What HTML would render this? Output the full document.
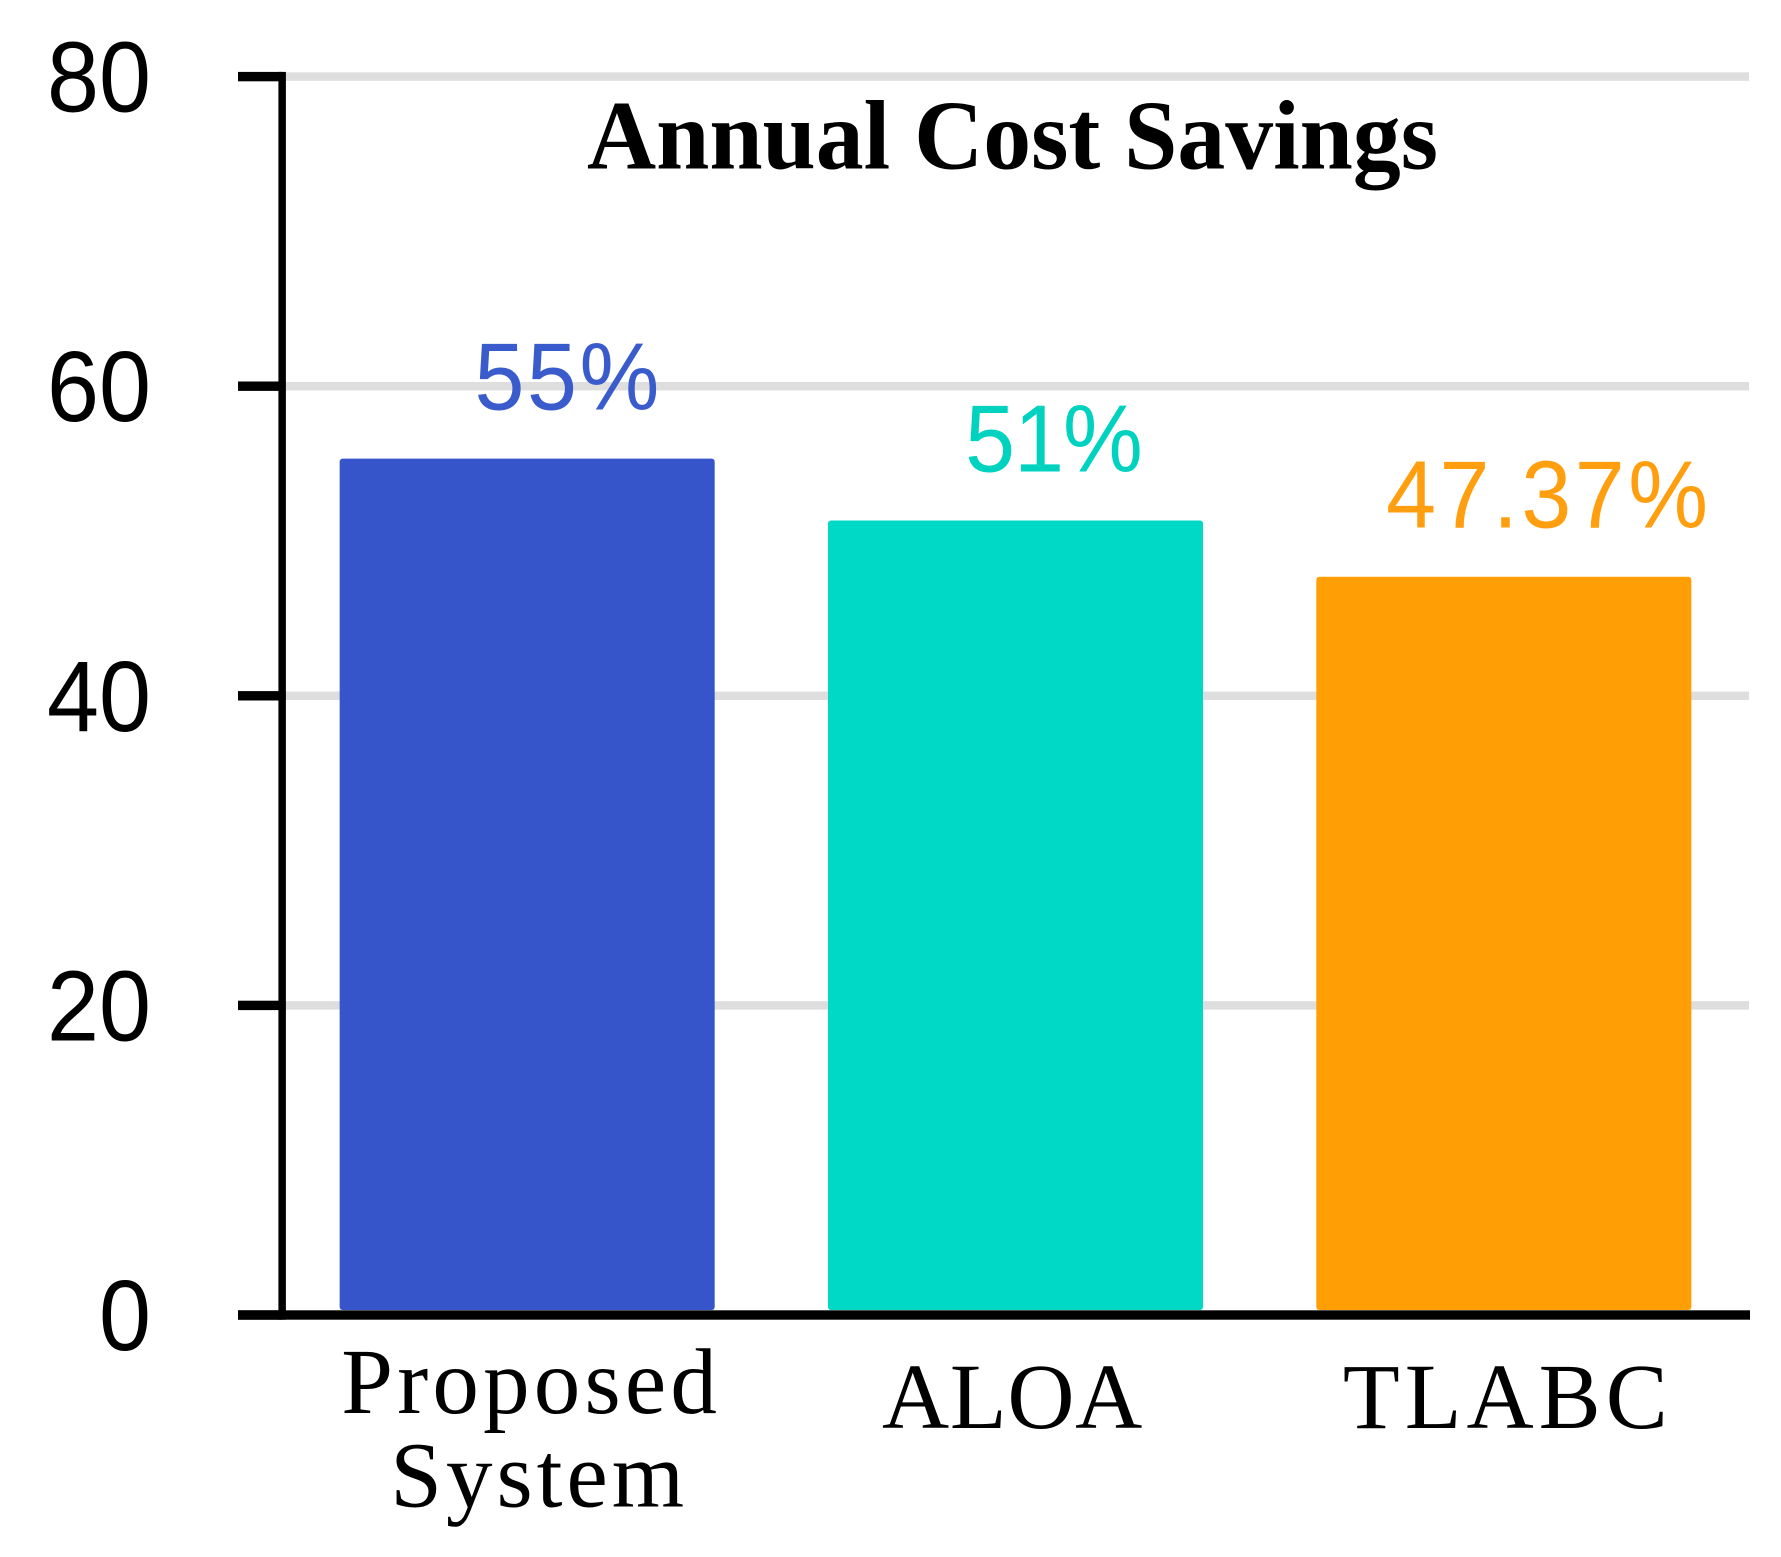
<!DOCTYPE html>
<html lang="en">
<head>
<meta charset="utf-8">
<title>Annual Cost Savings</title>
<style>
  html, body { margin: 0; padding: 0; background: #ffffff; }
  svg { display: block; }
  .sans { font-family: "Liberation Sans", Arial, sans-serif; }
  .serif { font-family: "Liberation Serif", "Times New Roman", serif; }
</style>
</head>
<body>
<svg id="chart" width="1781" height="1557" viewBox="0 0 1781 1557" xmlns="http://www.w3.org/2000/svg">
  <rect x="0" y="0" width="1781" height="1557" fill="#ffffff"/>
  <g id="grid"></g>
  <g id="bars"></g>
  <g id="value-labels"></g>
  <g id="axes"></g>
  <g id="y-labels"></g>
  <g id="x-labels"></g>
  <text class="serif" x="587" y="168.5" font-size="99" font-weight="700" fill="#000000" textLength="851" lengthAdjust="spacingAndGlyphs">Annual Cost Savings</text>
</svg>
<script>
const categories = [["Proposed", "System"], ["ALOA"], ["TLABC"]];
const savings = [55, 51, 47.37];
const printedValues = ["55%", "51%", "47.37%"];
const yTicks = [0, 20, 40, 60, 80];

const SVG_NS = "http://www.w3.org/2000/svg";
const plotLeft = 283;
const plotRight = 1748;
const zeroY = 1315;
const unitPx = 15.48;
const barLift = 5;
const barRatio = 0.768;
const barColors = ["#3655CB", "#00D9C6", "#FF9F05"];
const labelColors = ["#3A5BCB", "#00D2C0", "#FF9F10"];
const valueNudge = [41, 38, 45];
const valueTracking = [2.6, -1, 3.5];
const categoryNudge = [[4, 12], [-3], [4]];
const categoryTracking = [[4.2, 4], [0.7], [5]];
const condense = 0.935;

function yScale(v) { return zeroY - v * unitPx; }
function bandWidth() { return (plotRight - plotLeft) / categories.length; }
function xCenter(i) { return plotLeft + bandWidth() * (i + 0.5); }
function make(tag, attrs, parent) {
  const el = document.createElementNS(SVG_NS, tag);
  Object.keys(attrs).forEach(function (k) { el.setAttribute(k, attrs[k]); });
  parent.appendChild(el);
  return el;
}

const gridG = document.getElementById("grid");
const barsG = document.getElementById("bars");
const valuesG = document.getElementById("value-labels");
const axesG = document.getElementById("axes");
const yLabelsG = document.getElementById("y-labels");
const xLabelsG = document.getElementById("x-labels");

yTicks.forEach(function (t) {
  const grid = make("rect", { x: plotLeft, y: yScale(t) - 4.25, width: plotRight - plotLeft + 1, height: 8.5, fill: "#DEDEDE" }, gridG);
  
  

  const tick = make("rect", { x: 238, y: yScale(t) - 4.7, width: 44, height: 9.4, fill: "#000000" }, axesG);
  
  

  const label = make("text", { transform: "translate(151 " + (yScale(t) + 35) + ") scale(" + condense + " 1)", x: 0, y: 0, "font-size": 100, "text-anchor": "end", fill: "#000000", class: "sans" }, yLabelsG);
  label.textContent = String(t);
  
  
});

const yAxis = make("rect", { x: 278.4, y: yScale(yTicks[yTicks.length - 1]) - 4.7, width: 7.5, height: zeroY - yScale(yTicks[yTicks.length - 1]) + 9.4, fill: "#000000" }, axesG);



const xAxis = make("rect", { x: 238, y: zeroY - 4.7, width: plotRight - 238 + 2, height: 9.4, fill: "#000000" }, axesG);



savings.forEach(function (v, i) {
  const w = bandWidth() * barRatio;
  const top = yScale(v) - barLift;
  const bar = make("rect", { x: xCenter(i) - w / 2, y: top, width: w, height: yScale(0) - barLift - top, rx: 3, ry: 3, fill: barColors[i] }, barsG);
  
  

  const val = make("text", { transform: "translate(" + (xCenter(i) + valueNudge[i]) + " " + (top - 49) + ") scale(" + condense + " 1)", x: 0, y: 0, "font-size": 96, "text-anchor": "middle", "letter-spacing": valueTracking[i] / condense, fill: labelColors[i], class: "sans" }, valuesG);
  val.textContent = printedValues[i];
  
  
});

categories.forEach(function (lines, i) {
  const firstBaseline = lines.length > 1 ? 1413 : 1428;
  lines.forEach(function (line, j) {
    const cat = make("text", { x: xCenter(i) + categoryNudge[i][j], y: firstBaseline + j * 93.5, "font-size": 93, "text-anchor": "middle", "letter-spacing": categoryTracking[i][j], fill: "#000000", class: "serif" }, xLabelsG);
    cat.textContent = line;
    
    
  });
});
</script>
</body>
</html>
